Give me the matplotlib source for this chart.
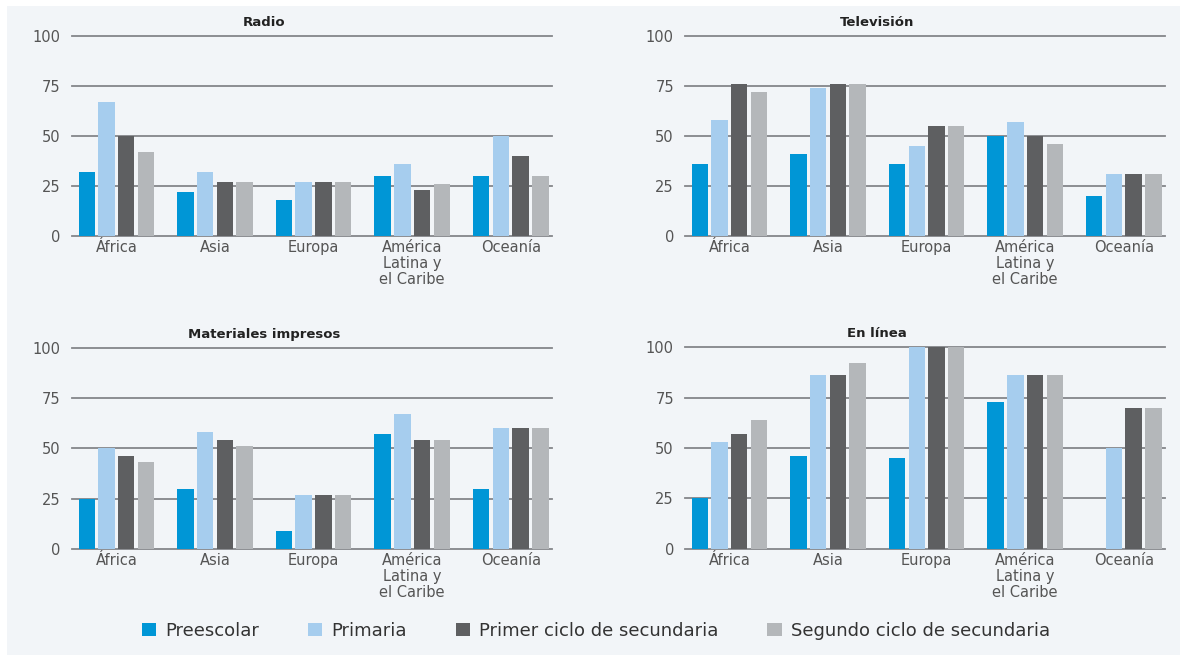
import matplotlib
matplotlib.use("Agg")
import matplotlib.pyplot as plt
from matplotlib.patches import Rectangle, Patch
import numpy as np

### data
regions = ["África", "Asia", "Europa", "América\nLatina y\nel Caribe", "Oceanía"]
levels = ["Preescolar", "Primaria", "Primer ciclo de secundaria", "Segundo ciclo de secundaria"]

radio_pre = [32, 22, 18, 30, 30]
radio_pri = [67, 32, 27, 36, 50]
radio_sec1 = [50, 27, 27, 23, 40]
radio_sec2 = [42, 27, 27, 26, 30]

tv_pre = [36, 41, 36, 50, 20]
tv_pri = [58, 74, 45, 57, 31]
tv_sec1 = [76, 76, 55, 50, 31]
tv_sec2 = [72, 76, 55, 46, 31]

print_pre = [25, 30, 9, 57, 30]
print_pri = [50, 58, 27, 67, 60]
print_sec1 = [46, 54, 27, 54, 60]
print_sec2 = [43, 51, 27, 54, 60]

online_pre = [25, 46, 45, 73, 0]
online_pri = [53, 86, 100, 86, 50]
online_sec1 = [57, 86, 100, 86, 70]
online_sec2 = [64, 92, 100, 86, 70]

colors = ["#0096d6", "#a6cdee", "#5e5f61", "#b4b7ba"]
bg = "#f2f5f8"

plt.rcParams["font.family"] = ["DejaVu Sans"]

fig = plt.figure(figsize=(11.8, 6.55), dpi=100, facecolor="white")
fig.patches.append(Rectangle((7 / 1180, 0), 1, 1 - 6 / 655, transform=fig.transFigure,
                             facecolor=bg, edgecolor="none", zorder=-10))

panels = [
    ("Radio", [0.061, 0.640, 0.407, 0.305], [radio_pre, radio_pri, radio_sec1, radio_sec2]),
    ("Televisión", [0.5805, 0.640, 0.407, 0.305], [tv_pre, tv_pri, tv_sec1, tv_sec2]),
    ("Materiales impresos", [0.061, 0.162, 0.407, 0.307], [print_pre, print_pri, print_sec1, print_sec2]),
    ("En línea", [0.5805, 0.162, 0.407, 0.308], [online_pre, online_pri, online_sec1, online_sec2]),
]

x = np.arange(len(regions))
bw = 0.167
step = 0.20
for title, rect, series in panels:
    ax = fig.add_axes(rect)
    ax.set_facecolor("none")
    for i, vals in enumerate(series):
        ax.bar(x + (i - 1.5) * step, vals, bw, color=colors[i], zorder=3)
    ax.set_ylim(0, 100)
    ax.set_xlim(-0.45, 4.42)
    ax.set_yticks([0, 25, 50, 75, 100])
    ax.yaxis.grid(True, color="#84868a", lw=1.3, zorder=1)
    for gl in ax.get_ygridlines():
        gl.set_clip_on(False)
    ax.set_axisbelow(True)
    for s in ax.spines.values():
        s.set_visible(False)
    ax.tick_params(axis="both", length=0, colors="#555555", labelsize=10.5)
    ax.tick_params(axis="y", pad=8)
    ax.tick_params(axis="x", pad=3)
    ax.set_xticks(x)
    ax.set_xticklabels(regions, linespacing=1.1)
    ax.text(0.40, 1.035, title, transform=ax.transAxes, ha="center", va="bottom",
            fontsize=9.5, fontweight="bold", color="#222222")

handles = [Patch(facecolor=c, edgecolor="none") for c in colors]
fig.legend(handles, levels, loc="center", bbox_to_anchor=(0.505, 0.037), ncol=4,
           frameon=False, fontsize=13, handlelength=0.8, handleheight=0.8,
           handletextpad=0.5, columnspacing=2.7, labelcolor="#333333")

fig.savefig("out.png", dpi=100, facecolor=fig.get_facecolor())
